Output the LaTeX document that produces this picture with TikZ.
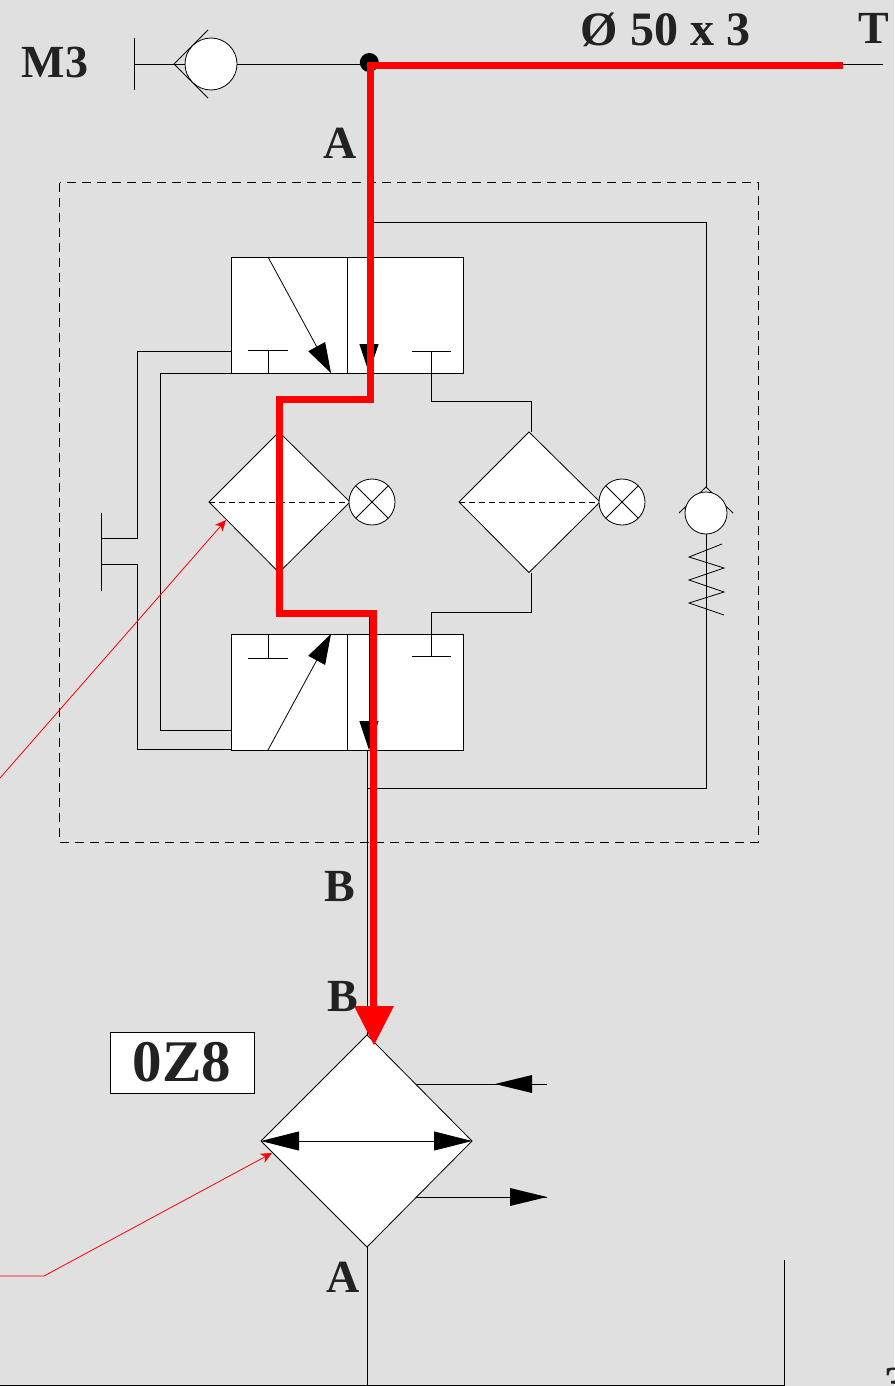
\documentclass[tikz,border=0pt]{standalone}
\usepackage{amsmath,amssymb}
\usepackage{fontspec}
\setmainfont{Liberation Serif}
\usetikzlibrary{arrows.meta}
\definecolor{panel}{HTML}{E0E0E0}
\definecolor{ink}{HTML}{222222}
\tikzset{
  wire/.style={line width=0.8pt},
  box/.style={wire,fill=white},
  bigtip/.style={-{Triangle[length=30pt,width=19pt]}},
  lbl/.style={text=ink,font=\bfseries\fontsize{46}{46}\selectfont,inner sep=0pt},
  pointer/.style={red,line width=0.8pt,-{Stealth[length=11pt,width=10pt,inset=3pt]}},
}
\begin{document}
\begin{tikzpicture}[x=1pt,y=-1pt]
      \fill[panel] (0,0) rectangle (894,1386);
      \useasboundingbox (0,0) rectangle (894,1386);
      % main pipe and gauge
      \draw[wire] (134,64)--(883,64);
      \draw[wire] (134,38)--(134,90);
      \draw[wire] (208,30)--(174,64)--(208,98);
      \draw[box] (211,64) circle (26pt);
      \fill (369.3,62.5) circle (9.5pt);
      % dashed block
      \draw[wire,dash pattern=on 9pt off 6pt] (59.5,182.5) rectangle (758,842);
      \draw[wire] (370,222)--(706,222)--(706,487);
      \draw[wire] (706,534)--(706,788)--(368,788);
      \draw[wire] (679,513)--(706,487)--(733,513);
      \draw[box] (706,513) circle (21pt);
      \draw[wire] (722,544)--(689,557)--(724,568)--(689,580)--(724,592)--(689,603)--(724,615);
      % pilot lines
      \draw[wire] (231,351)--(137,351)--(137,538)--(101,538);
      \draw[wire] (101,564)--(137,564)--(137,749)--(231,749);
      \draw[wire] (231,373)--(160,373)--(160,730)--(231,730);
      \draw[wire] (101,513)--(101,591);
      % the two valves
      \foreach \y in {257,634}{
          \draw[box] (231,\y) rectangle (463.5,\y+116);
          \draw[wire] (347.7,\y)--(347.7,\y+116);
      }
      \draw[wire,bigtip] (268,257)--(331,373);
      \draw[wire,bigtip] (268,750)--(331,634);
      \draw[wire,-{Triangle[length=29pt,width=19pt]}] (369,257)--(369,373);
      \draw[wire,-{Triangle[length=29pt,width=19pt]}] (369,616)--(369,750);
      \draw[wire] (268,373)--(268,350);
      \draw[wire] (248,350)--(288,350);
      \draw[wire] (268,634)--(268,658);
      \draw[wire] (248,658)--(288,658);
      \draw[wire] (412,351)--(451,351);
      \draw[wire] (431.5,351)--(431.5,401)--(531,401)--(531,432);
      \draw[wire] (412,656)--(451,656);
      \draw[wire] (431.5,656)--(431.5,612.5)--(531,612.5)--(531,573);
      % diamonds with lamps
      \foreach \x/\c in {279/372, 529/622}{
          \draw[box] (\x-70,502)--(\x,432)--(\x+71,502)--(\x,572.5)--cycle;
          \draw[wire,dash pattern=on 6pt off 4pt] (\x-70,502)--(\x+71,502);
          \draw[box] (\c,502) circle (23pt);
          \draw[wire] (\c-16,486)--(\c+16,518);
          \draw[wire] (\c-16,518)--(\c+16,486);
      }
      % lower unit
      \draw[wire] (367.5,750)--(367.5,1036);
      \draw[wire] (416,1084)--(547,1084);
      \draw[wire] (416,1197)--(547,1197);
      \draw[box] (367,1035)--(472,1141)--(367,1247)--(261,1141)--cycle;
      \draw[wire,{Triangle[length=38pt,width=19pt]}-{Triangle[length=38pt,width=19pt]}] (261,1141)--(472,1141);
      \fill (495,1084)--(532,1075)--(532,1093)--cycle;
      \fill (547,1197)--(510,1188)--(510,1206)--cycle;
      \draw[wire] (367.5,1247)--(367.5,1386);
      \draw[wire] (784,1260)--(784,1385)--(0,1385);
      % flow path
      \draw[red,line width=7pt] (843,65.5)--(370,65.5)--(370,399)--(279,399)--(279,613)--(373.5,613)--(373.5,1010);
      \fill[red] (374,1045)--(354,1006)--(394,1006)--cycle;
      \draw[pointer] (0,778)--(226,520);
      \draw[pointer] (0,1276)--(44,1276)--(272,1153);
      % labels
      \node[lbl] (m3) at (55,62) {M3};
      \node[lbl,font=\bfseries\fontsize{48}{48}\selectfont] (size) at (665.5,30) {Ø 50 x 3};
      \node[lbl] (t) at (874,28) {T};
      \node[lbl] (a1) at (340,143) {A};
      \node[lbl] (b1) at (340,886) {B};
      \node[lbl] (b2) at (343,996) {B};
      \node[lbl] (a2) at (343,1277) {A};
      \node[box,lbl,draw,minimum width=144pt,minimum height=61pt,font=\bfseries\fontsize{59}{59}\selectfont] (tag) at (182,1062.5) {0Z8};
      \node[lbl,anchor=north west] (page) at (884,1368) {3};
  \end{tikzpicture}
\end{document}
